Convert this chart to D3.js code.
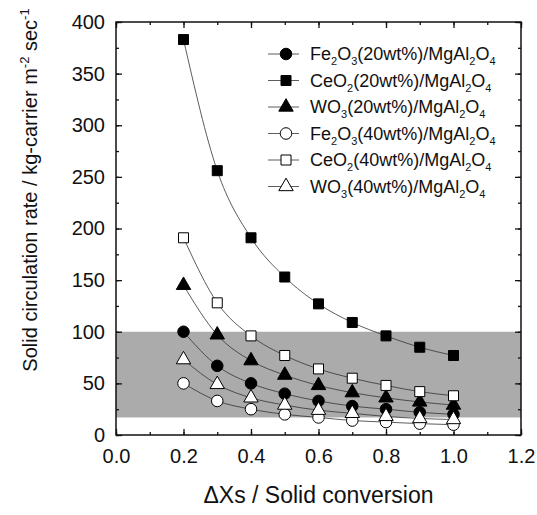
<!DOCTYPE html>
<html>
<head>
<meta charset="utf-8">
<script src="https://cdn.jsdelivr.net/npm/d3@7"></script>
<style>
body { margin: 0; background: #fff; }
text { font-family: "Liberation Sans", Arial, sans-serif; fill: #111; }
</style>
</head>
<body>
<svg id="chart"></svg>
<script>
var width = 537;
var height = 515;
var margin = {top: 22, right: 16, bottom: 80, left: 116};
var widthInner = width - margin.left - margin.right;
var heightInner = height - margin.top - margin.bottom;

// data
var xValues = [0.2, 0.3, 0.4, 0.5, 0.6, 0.7, 0.8, 0.9, 1.0];
var fe20 = [100, 67, 50, 40, 33, 28, 25, 22, 20];
var ce20 = [383, 256, 191, 153, 127, 109, 96, 85, 77];
var wo20 = [145, 97, 72, 58, 48, 41, 36, 32, 29];
var fe40 = [50, 33, 25, 20, 17, 14, 12.5, 11, 10];
var ce40 = [191, 128, 96, 77, 64, 55, 48, 42, 38];
var wo40 = [73, 49, 36, 29, 24, 21, 18, 16, 15];
var bandRange = [17, 100];
var xTicks = [0.0, 0.2, 0.4, 0.6, 0.8, 1.0, 1.2];
var yTicks = [0, 50, 100, 150, 200, 250, 300, 350, 400];

var series = [
	{metal: 'Fe', sub: '2', ox: 'O', osub: '3', pct: '20', values: fe20, shape: 'circle', filled: true},
	{metal: 'Ce', sub: '', ox: 'O', osub: '2', pct: '20', values: ce20, shape: 'square', filled: true},
	{metal: 'W', sub: '', ox: 'O', osub: '3', pct: '20', values: wo20, shape: 'triangle', filled: true},
	{metal: 'Fe', sub: '2', ox: 'O', osub: '3', pct: '40', values: fe40, shape: 'circle', filled: false},
	{metal: 'Ce', sub: '', ox: 'O', osub: '2', pct: '40', values: ce40, shape: 'square', filled: false},
	{metal: 'W', sub: '', ox: 'O', osub: '3', pct: '40', values: wo40, shape: 'triangle', filled: false}
];

var svg = d3.select('#chart')
	.attr('width', width)
	.attr('height', height);

var g = svg.append('g')
	.attr('transform', 'translate(' + margin.left + ',' + margin.top + ')');

var x = d3.scaleLinear().domain([0, 1.2]).range([0, widthInner]);
var y = d3.scaleLinear().domain([0, 400]).range([heightInner, 0]);

// shaded band
g.append('rect')
	.attr('x', 0)
	.attr('width', widthInner)
	.attr('y', y(bandRange[1]))
	.attr('height', y(bandRange[0]) - y(bandRange[1]))
	.attr('fill', '#ababab');

// ticks on all four sides, pointing in
var minorX = d3.range(0, 1.21, 0.1);
var minorY = d3.range(0, 401, 25);

g.append('g')
	.attr('transform', 'translate(0,' + heightInner + ')')
	.call(d3.axisBottom(x).tickValues(minorX).tickSize(-3).tickFormat(''))
	.call(function(a) { a.select('.domain').remove(); });
g.append('g')
	.call(d3.axisTop(x).tickValues(minorX).tickSize(-3).tickFormat(''))
	.call(function(a) { a.select('.domain').remove(); });
g.append('g')
	.call(d3.axisLeft(y).tickValues(minorY).tickSize(-3).tickFormat(''))
	.call(function(a) { a.select('.domain').remove(); });
g.append('g')
	.attr('transform', 'translate(' + widthInner + ',0)')
	.call(d3.axisRight(y).tickValues(minorY).tickSize(-3).tickFormat(''))
	.call(function(a) { a.select('.domain').remove(); });

var xAxis = g.append('g')
	.attr('transform', 'translate(0,' + heightInner + ')')
	.call(d3.axisBottom(x).tickValues(xTicks).tickSize(-6).tickPadding(14).tickFormat(d3.format('.1f')));
xAxis.select('.domain').remove();
xAxis.selectAll('text').style('font-size', '20px').attr('fill', '#111');

var yAxis = g.append('g')
	.call(d3.axisLeft(y).tickValues(yTicks).tickSize(-6).tickPadding(11));
yAxis.select('.domain').remove();
yAxis.selectAll('text').style('font-size', '20px').attr('fill', '#111');

g.append('g')
	.call(d3.axisTop(x).tickValues(xTicks).tickSize(-6).tickFormat(''))
	.call(function(a) { a.select('.domain').remove(); });
g.append('g')
	.attr('transform', 'translate(' + widthInner + ',0)')
	.call(d3.axisRight(y).tickValues(yTicks).tickSize(-6).tickFormat(''))
	.call(function(a) { a.select('.domain').remove(); });

g.selectAll('.tick line').attr('stroke', '#111').attr('stroke-width', 1.3);

g.append('rect')
	.attr('width', widthInner)
	.attr('height', heightInner)
	.attr('fill', 'none')
	.attr('stroke', '#111')
	.attr('stroke-width', 1.5);

var symbols = {
	circle: d3.symbol().type(d3.symbolCircle).size(105),
	square: d3.symbol().type(d3.symbolSquare).size(100),
	triangle: d3.symbol().type(d3.symbolTriangle).size(90)
};

var line = d3.line()
	.x(function(d, i) { return x(xValues[i]); })
	.y(function(d) { return y(d); })
	.curve(d3.curveMonotoneX);

series.forEach(function(s) {
	g.append('path')
		.attr('d', line(s.values))
		.attr('fill', 'none')
		.attr('stroke', '#333')
		.attr('stroke-width', 0.8);
});

series.forEach(function(s) {
	g.selectAll(null)
		.data(s.values)
		.enter().append('path')
		.attr('d', symbols[s.shape])
		.attr('transform', function(d, i) { return 'translate(' + x(xValues[i]) + ',' + y(d) + ')'; })
		.attr('fill', s.filled ? '#000' : '#fff')
		.attr('stroke', '#000')
		.attr('stroke-width', 1);
});

// legend
var legend = g.append('g')
	.attr('transform', 'translate(170,32)');

series.forEach(function(s, i) {
	var row = legend.append('g').attr('transform', 'translate(0,' + (i * 26.5) + ')');
	row.append('line')
		.attr('x1', -18).attr('x2', 13)
		.attr('stroke', '#333').attr('stroke-width', 0.8);
	row.append('path')
		.attr('d', symbols[s.shape])
		.attr('fill', s.filled ? '#000' : '#fff')
		.attr('stroke', '#000');
	var t = row.append('text')
		.attr('x', 24)
		.attr('y', 6)
		.style('font-size', '18px');
	t.append('tspan').text(s.metal);
	if (s.sub) t.append('tspan').attr('dy', 5).style('font-size', '11px').text(s.sub);
	t.append('tspan').attr('dy', s.sub ? -5 : 0).text(s.ox);
	t.append('tspan').attr('dy', 5).style('font-size', '11px').text(s.osub);
	t.append('tspan').attr('dy', -5).text('(' + s.pct + 'wt%)/MgAl');
	t.append('tspan').attr('dy', 5).style('font-size', '11px').text('2');
	t.append('tspan').attr('dy', -5).text('O');
	t.append('tspan').attr('dy', 5).style('font-size', '11px').text('4');
});

// axis titles
svg.append('text')
	.attr('x', margin.left + x(0.6))
	.attr('y', 503)
	.attr('text-anchor', 'middle')
	.style('font-size', '23px')
	.text('\u0394Xs / Solid conversion');

var yTitle = svg.append('text')
	.attr('transform', 'translate(37,190) rotate(-90)')
	.attr('text-anchor', 'middle')
	.style('font-size', '20px');
yTitle.append('tspan').text('Solid circulation rate / kg-carrier m');
yTitle.append('tspan').attr('dy', -8).style('font-size', '13px').text('-2');
yTitle.append('tspan').attr('dy', 8).text(' sec');
yTitle.append('tspan').attr('dy', -8).style('font-size', '13px').text('-1');
</script>
</body>
</html>
